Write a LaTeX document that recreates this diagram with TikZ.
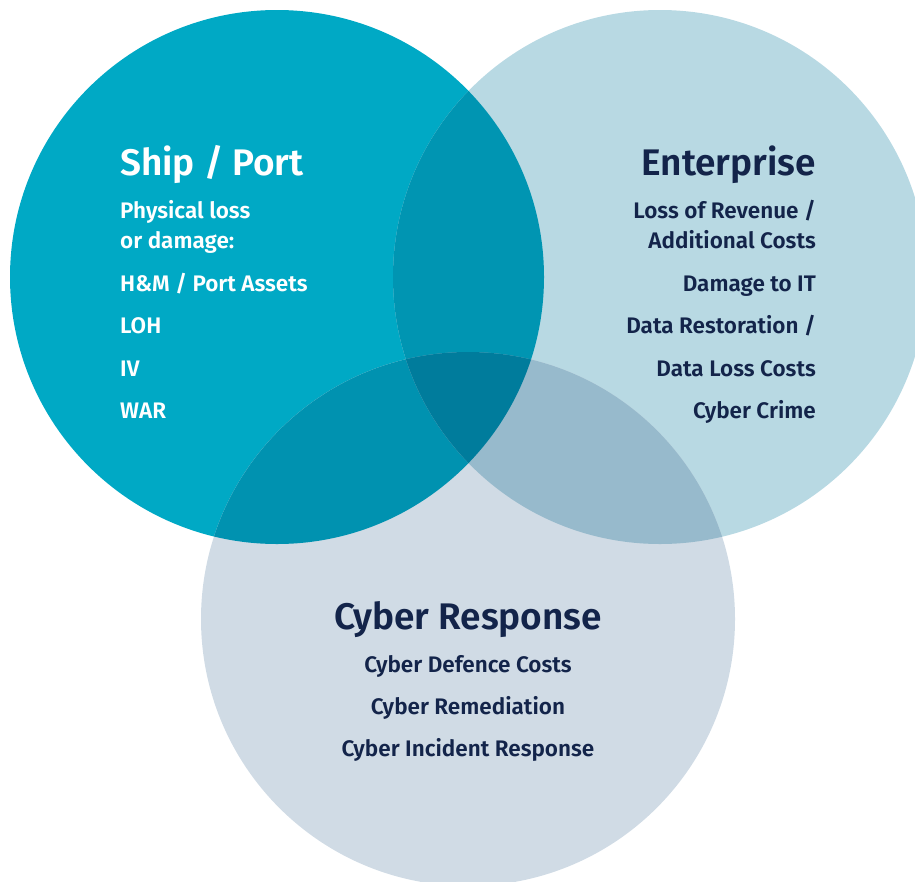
\documentclass[tikz,border=0pt]{standalone}
\usepackage{fontspec}
\setmainfont{Fira Sans}[BoldFont={* SemiBold}]
\definecolor{shipc}{HTML}{00A9C5}
\definecolor{entc}{HTML}{B8D9E3}
\definecolor{cybc}{HTML}{D0DBE5}
\definecolor{sec}{HTML}{0095B2}
\definecolor{scc}{HTML}{0092B0}
\definecolor{ecc}{HTML}{97BACC}
\definecolor{allc}{HTML}{007C9C}
\definecolor{navy}{HTML}{13244A}
\tikzset{
  head/.style={inner sep=0pt, font=\fontsize{37}{37}\selectfont\bfseries},
  item/.style={inner sep=0pt, font=\fontsize{22.5}{22.5}\selectfont\bfseries},
}
\begin{document}
\begin{tikzpicture}[x=1pt,y=-1pt]
\useasboundingbox (0,0) rectangle (915,881);
\coordinate (S) at (277,277);
\coordinate (E) at (660,277);
\coordinate (C) at (468,619);
\def\R{267}
\fill[shipc] (S) circle (\R);
\fill[entc] (E) circle (\R);
\fill[cybc] (C) circle (\R);
\begin{scope}\clip (S) circle (\R); \fill[sec] (E) circle (\R);\end{scope}
\begin{scope}\clip (S) circle (\R); \fill[scc] (C) circle (\R);\end{scope}
\begin{scope}\clip (E) circle (\R); \fill[ecc] (C) circle (\R);\end{scope}
\begin{scope}\clip (S) circle (\R); \clip (E) circle (\R); \fill[allc] (C) circle (\R);\end{scope}

% Ship / Port
\node[head, white, anchor=base west] (s0) at (120,175) {Ship / Port};
\node[item, white, anchor=base west] (s1) at (120,218) {Physical loss};
\node[item, white, anchor=base west] (s2) at (120,248) {or damage:};
\node[item, white, anchor=base west] (s3) at (120,291) {H\&M / Port Assets};
\node[item, white, anchor=base west] (s4) at (120,333) {LOH};
\node[item, white, anchor=base west] (s5) at (120,376) {IV};
\node[item, white, anchor=base west] (s6) at (120,418) {WAR};

% Enterprise
\node[head, navy, anchor=base east] (e0) at (816,175) {Enterprise};
\node[item, navy, anchor=base east] (e1) at (816,218) {Loss of Revenue /};
\node[item, navy, anchor=base east] (e2) at (816,248) {Additional Costs};
\node[item, navy, anchor=base east] (e3) at (816,291) {Damage to IT};
\node[item, navy, anchor=base east] (e4) at (816,333) {Data Restoration /};
\node[item, navy, anchor=base east] (e5) at (816,376) {Data Loss Costs};
\node[item, navy, anchor=base east] (e6) at (816,418) {Cyber Crime};

% Cyber Response
\node[head, navy, anchor=base] (c0) at (468,629) {Cyber Response};
\node[item, navy, anchor=base] (c1) at (468,672) {Cyber Defence Costs};
\node[item, navy, anchor=base] (c2) at (468,714) {Cyber Remediation};
\node[item, navy, anchor=base] (c3) at (468,756) {Cyber Incident Response};
\end{tikzpicture}
\end{document}
